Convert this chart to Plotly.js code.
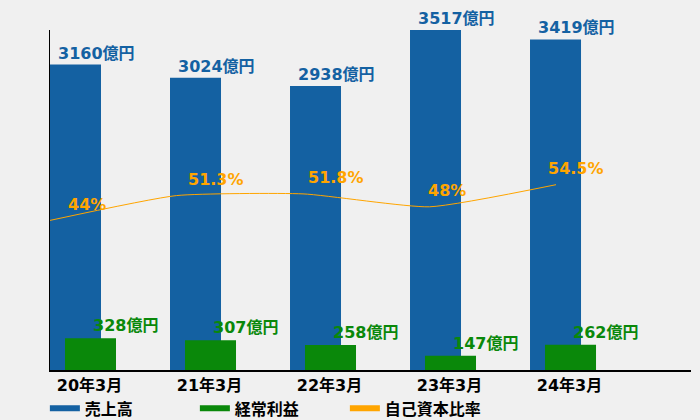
<!DOCTYPE html>
<html>
<head>
<meta charset="utf-8">
<script src="https://cdn.plot.ly/plotly-3.0.1.min.js"></script>
<style>html,body{margin:0;padding:0;background:#f0f0f0;}#chart{width:700px;height:420px;}</style>
</head>
<body>
<div id="chart"></div>
<script>
// Data
const categories = ['20年3月', '21年3月', '22年3月', '23年3月', '24年3月'];
const sales = [3160, 3024, 2938, 3517, 3419];          // 売上高 (億円)
const ordinaryProfit = [328, 307, 258, 147, 262];      // 経常利益 (億円)
const equityRatio = [44, 51.3, 51.8, 48, 54.5];        // 自己資本比率 (%)
const seriesNames = ['売上高', '経常利益', '自己資本比率'];

const BLUE = '#1461a2', GREEN = '#0a880a', ORANGE = '#ffa500';
const FONT = '"DejaVu Sans", "Noto Sans CJK JP", sans-serif';
const idx = categories.map((_, i) => i);

const traces = [
  { type: 'bar', x: idx, y: sales, marker: { color: BLUE }, width: 0.425, offset: -0.329,
    showlegend: false, hoverinfo: 'skip' },
  { type: 'bar', x: idx, y: ordinaryProfit, marker: { color: GREEN }, width: 0.425, offset: -0.204,
    showlegend: false, hoverinfo: 'skip' },
  { type: 'scatter', mode: 'lines', x: idx, y: equityRatio, xaxis: 'x2', yaxis: 'y2',
    line: { color: ORANGE, width: 1, shape: 'spline', smoothing: 0.5 }, showlegend: false, hoverinfo: 'skip' },
  // legend entries
  { type: 'scatter', mode: 'lines', x: [null], y: [null], name: seriesNames[0], line: { color: BLUE, width: 6 } },
  { type: 'scatter', mode: 'lines', x: [null], y: [null], name: seriesNames[1], line: { color: GREEN, width: 6 } },
  { type: 'scatter', mode: 'lines', x: [null], y: [null], name: seriesNames[2], line: { color: ORANGE, width: 6 } }
];

const annotations = [];
sales.forEach((v, i) => annotations.push({
  xref: 'x', yref: 'y', x: i - 0.279, y: v, xanchor: 'left', yanchor: 'bottom', yshift: 0,
  text: v + '億円', showarrow: false, font: { family: FONT, size: 16, color: BLUE, weight: 'bold' }
}));
ordinaryProfit.forEach((v, i) => annotations.push({
  xref: 'x', yref: 'y', x: i + 0.0125, y: v, xanchor: 'left', yanchor: 'bottom', yshift: 1,
  text: v + '億円', showarrow: false, font: { family: FONT, size: 16, color: GREEN, weight: 'bold' }
}));
equityRatio.forEach((v, i) => annotations.push({
  xref: 'x', yref: 'y2', x: i - 0.196, y: v, xanchor: 'left', yanchor: 'middle', yshift: 16,
  text: v + '%', showarrow: false, font: { family: FONT, size: 16, color: ORANGE, weight: 'bold' }
}));

const layout = {
  width: 700, height: 420,
  margin: { l: 50, r: 9, t: 30, b: 50, pad: 0, autoexpand: false },
  paper_bgcolor: '#f0f0f0', plot_bgcolor: '#f0f0f0',
  font: { family: FONT, size: 16, color: '#000' },
  barmode: 'overlay',
  xaxis: { range: [-0.329, 5.0125], tickvals: idx, ticktext: categories, showgrid: false, zeroline: false,
    showline: true, linecolor: '#000', linewidth: 2, ticks: '',
    tickfont: { family: FONT, size: 16, color: '#000', weight: 'bold' }, fixedrange: true },
  yaxis: { range: [0, Math.max(...sales)], showgrid: false, zeroline: false, showticklabels: false,
    showline: true, linecolor: '#000', linewidth: 1, ticks: '' },
  xaxis2: { overlaying: 'x', range: [0, 641 / 126.5], visible: false },
  yaxis2: { overlaying: 'y', range: [0, 100], visible: false },
  showlegend: true,
  legend: { orientation: 'h', x: -0.008, xanchor: 'left', y: -0.063, yanchor: 'top',
    entrywidth: 105, entrywidthmode: 'pixels', bgcolor: 'rgba(0,0,0,0)',
    font: { family: FONT, size: 16, color: '#000', weight: 'bold' }, traceorder: 'normal' },
  annotations: annotations
};

Plotly.newPlot('chart', traces, layout, { displayModeBar: false, staticPlot: true });
</script>
</body>
</html>
